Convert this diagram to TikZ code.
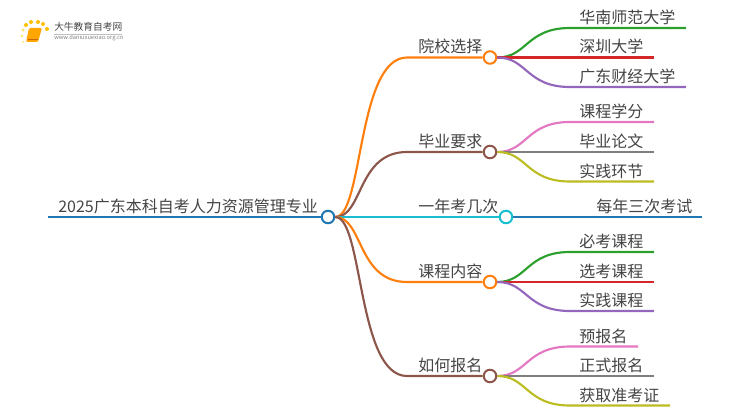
\documentclass[tikz,border=0pt]{standalone}
\usepackage{fontspec}
\setmainfont{Noto Sans CJK SC}
\usepackage{tikz}
\definecolor{c_blue}{HTML}{1F77B4}
\definecolor{c_orange}{HTML}{FF7F0E}
\definecolor{c_green}{HTML}{2CA02C}
\definecolor{c_red}{HTML}{D62728}
\definecolor{c_purple}{HTML}{9467BD}
\definecolor{c_brown}{HTML}{8C564B}
\definecolor{c_pink}{HTML}{E377C2}
\definecolor{c_gray}{HTML}{7F7F7F}
\definecolor{c_olive}{HTML}{BCBD22}
\definecolor{c_cyan}{HTML}{17BECF}
\definecolor{c_text}{HTML}{444444}
\tikzset{%
  % Specifications for style of nodes:
  base/.style = {
    anchor=base west,
    inner sep=0pt,
    text=c_text,
    font=\fontsize{12}{14}\selectfont
  },
  dot/.style={circle, fill=white, line width=1.5pt, minimum size=9.4pt, inner sep=0pt},
  wire/.style={line width=1.6pt},
  logo_dot/.style={circle, fill=#1, inner sep=0pt, minimum size=3pt},
}

\begin{document}
\begin{tikzpicture}[x=0.75pt, y=-0.75pt]
  \useasboundingbox (0,0) rectangle (750,410);
  % logo
  \fill[orange!70!yellow, rounded corners=1pt] (29,28) -- (42,28) -- (38,42) -- (26,42) -- cycle;
  \draw[orange!80!black, line width=0.5pt] (28,39) -- (38,39);
  \node[logo_dot=orange!50!yellow] (sun_a) at (26,25) {};
  \node[logo_dot=orange!50!yellow] (sun_b) at (31,22) {};
  \node[logo_dot=orange!50!yellow] (sun_c) at (38,22) {};
  \node[logo_dot=orange!50!yellow] (sun_d) at (43,24) {};
  \node[logo_dot=orange!50!yellow] (sun_e) at (47,29) {};
  \node[logo_dot=orange!35!yellow!60, scale=0.8] (sun_f) at (23,30) {};
  \node[logo_dot=orange!35!yellow!60, scale=0.7] (sun_g) at (22,36) {};
  \node[logo_dot=orange!35!yellow!60, scale=0.5] (sun_h) at (23,42) {};
  \node[base, font=\fontsize{7.3}{9}\selectfont] (logo_name) at (54,31) {大牛教育自考网};
  \node[base, font=\fontsize{4.3}{5}\selectfont, text=gray] (logo_url) at (54,40) {www.daniuxuexiao.org.cn};
  \draw[gray!50, line width=0.4pt] (logo_name.base west) ++(0,3) -- ++(68,0);

  % nodes
  \node (root_dot)  [dot, draw=c_blue] at (328,217) {};
  \node (school_dot)  [dot, draw=c_orange] at (490,57.5) {};
  \node (grad_dot)  [dot, draw=c_brown] at (490,152) {};
  \node (times_dot)  [dot, draw=c_cyan] at (506,217) {};
  \node (course_dot)  [dot, draw=c_orange] at (490,282) {};
  \node (apply_dot)  [dot, draw=c_brown] at (490,376) {};

  \coordinate (root_start) at (48,217);
  \node (root_text)  [base] at (58,212) {2025广东本科自考人力资源管理专业};

  \coordinate (school_in) at (407,57.5);
  \node (school_text)  [base] at (418,53) {院校选择};
  \coordinate (grad_in) at (407,152);
  \node (grad_text)  [base] at (418,147.5) {毕业要求};
  \coordinate (times_in) at (407,217);
  \node (times_text)  [base] at (418,212.5) {一年考几次};
  \coordinate (course_in) at (407,282);
  \node (course_text)  [base] at (418,277.5) {课程内容};
  \coordinate (apply_in) at (407,376);
  \node (apply_text)  [base] at (418,371.5) {如何报名};

  \coordinate (scnu_in) at (570,28);
  \coordinate (scnu_end) at (686,28);
  \node (scnu_text)  [base] at (579,23.5) {华南师范大学};
  \coordinate (szu_in) at (570,57.5);
  \coordinate (szu_end) at (654,57.5);
  \node (szu_text)  [base] at (579,53) {深圳大学};
  \coordinate (gdufe_in) at (570,87);
  \coordinate (gdufe_end) at (686,87);
  \node (gdufe_text)  [base] at (579,82.5) {广东财经大学};

  \coordinate (credit_in) at (570,122);
  \coordinate (credit_end) at (654,122);
  \node (credit_text)  [base] at (579,117.5) {课程学分};
  \coordinate (thesis_in) at (570,152);
  \coordinate (thesis_end) at (654,152);
  \node (thesis_text)  [base] at (579,147.5) {毕业论文};
  \coordinate (practice_in) at (570,181.5);
  \coordinate (practice_end) at (654,181.5);
  \node (practice_text)  [base] at (579,177) {实践环节};

  \coordinate (yearly_in) at (586,217);
  \coordinate (yearly_end) at (702,217);
  \node (yearly_text)  [base] at (596,212.5) {每年三次考试};

  \coordinate (must_in) at (570,252);
  \coordinate (must_end) at (654,252);
  \node (must_text)  [base] at (579,247.5) {必考课程};
  \coordinate (option_in) at (570,282);
  \coordinate (option_end) at (654,282);
  \node (option_text)  [base] at (579,277.5) {选考课程};
  \coordinate (lab_in) at (570,311);
  \coordinate (lab_end) at (654,311);
  \node (lab_text)  [base] at (579,306.5) {实践课程};

  \coordinate (pre_in) at (570,346.5);
  \coordinate (pre_end) at (638,346.5);
  \node (pre_text)  [base] at (579,342) {预报名};
  \coordinate (formal_in) at (570,376);
  \coordinate (formal_end) at (654,376);
  \node (formal_text)  [base] at (579,371.5) {正式报名};
  \coordinate (ticket_in) at (570,405.5);
  \coordinate (ticket_end) at (670,405.5);
  \node (ticket_text)  [base] at (579,401) {获取准考证};

  % lines
  \draw[wire, c_blue, line width=2pt] (root_start) -- (root_dot.west);
  \draw[wire, c_orange] (root_dot.east) .. controls +(28,0) and +(-50,0) .. (school_in) -- (school_dot.west);
  \draw[wire, c_brown] (root_dot.east) .. controls +(28,0) and +(-50,0) .. (grad_in) -- (grad_dot.west);
  \draw[wire, c_cyan] (root_dot.east) -- (times_dot.west);
  \draw[wire, c_orange] (root_dot.east) .. controls +(28,0) and +(-50,0) .. (course_in) -- (course_dot.west);
  \draw[wire, c_brown] (root_dot.east) .. controls +(28,0) and +(-50,0) .. (apply_in) -- (apply_dot.west);

  \draw[wire, c_green] (school_dot.east) .. controls +(30,0) and +(-44,0) .. (scnu_in) -- (scnu_end);
  \draw[wire, c_red] (school_dot.east) -- (szu_end);
  \draw[wire, c_purple] (school_dot.east) .. controls +(30,0) and +(-44,0) .. (gdufe_in) -- (gdufe_end);

  \draw[wire, c_pink] (grad_dot.east) .. controls +(30,0) and +(-44,0) .. (credit_in) -- (credit_end);
  \draw[wire, c_gray] (grad_dot.east) -- (thesis_end);
  \draw[wire, c_olive] (grad_dot.east) .. controls +(30,0) and +(-44,0) .. (practice_in) -- (practice_end);

  \draw[wire, c_blue] (times_dot.east) -- (yearly_end);

  \draw[wire, c_green] (course_dot.east) .. controls +(30,0) and +(-44,0) .. (must_in) -- (must_end);
  \draw[wire, c_red] (course_dot.east) -- (option_end);
  \draw[wire, c_purple] (course_dot.east) .. controls +(30,0) and +(-44,0) .. (lab_in) -- (lab_end);

  \draw[wire, c_pink] (apply_dot.east) .. controls +(30,0) and +(-44,0) .. (pre_in) -- (pre_end);
  \draw[wire, c_gray] (apply_dot.east) -- (formal_end);
  \draw[wire, c_olive] (apply_dot.east) .. controls +(30,0) and +(-44,0) .. (ticket_in) -- (ticket_end);
\end{tikzpicture}
\end{document}
